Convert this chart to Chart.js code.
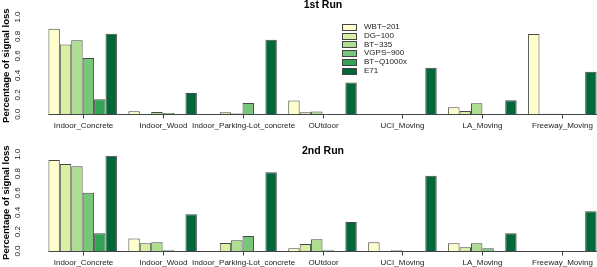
<!DOCTYPE html>
<html>
<head>
<meta charset="utf-8">
<script src="https://cdn.jsdelivr.net/npm/chart.js@4/dist/chart.umd.min.js"></script>
<style>
  html, body { margin: 0; padding: 0; background: #fff; overflow: hidden; width: 597px; height: 267px; }
  canvas { position: absolute; left: 0; }
  #run1 { top: 0; }
  #run2 { top: 134px; }
</style>
</head>
<body>
<canvas id="run1" width="604" height="133"></canvas>
<canvas id="run2" width="604" height="133"></canvas>
<script>
// categories and devices
var categories = ['Indoor_Concrete', 'Indoor_Wood', 'Indoor_Parking-Lot_concrete', 'OUtdoor', 'UCI_Moving', 'LA_Moving', 'Freeway_Moving'];
var devices = ['WBT\u2212201', 'DG\u2212100', 'BT\u2212335', 'VGPS\u2212900', 'BT\u2212Q1000x', 'E71'];
var colors = ['#ffffcc', '#d9f0a3', '#addd8e', '#78c679', '#31a354', '#006837'];
var yTicks = [0, 0.2, 0.4, 0.6, 0.8, 1.0];

// 1st run, fraction of signal loss per device
var run1WBT   = [0.879, 0.031, 0,     0.141, 0,     0.072, 0.824];
var run1DG    = [0.717, 0,     0.020, 0.020, 0,     0.034, 0.005];
var run1BT335 = [0.762, 0.024, 0.008, 0.030, 0.003, 0.114, 0.005];
var run1VGPS  = [0.579, 0.014, 0.115, 0.004, 0,     0,     0];
var run1BTQ   = [0.155, 0,     0,     0,     0,     0,     0];
var run1E71   = [0.828, 0.220, 0.765, 0.328, 0.479, 0.145, 0.438];

// 2nd run
var run2WBT   = [0.941, 0.128, 0,     0.028, 0.090, 0.079, 0];
var run2DG    = [0.900, 0.079, 0.083, 0.072, 0,     0.038, 0];
var run2BT335 = [0.876, 0.090, 0.110, 0.121, 0.007, 0.079, 0];
var run2VGPS  = [0.603, 0.007, 0.155, 0.007, 0,     0.028, 0];
var run2BTQ   = [0.183, 0,     0,     0,     0,     0,     0];
var run2E71   = [0.986, 0.379, 0.814, 0.300, 0.779, 0.183, 0.410];

var FONT = '"Liberation Sans", Arial, Helvetica, sans-serif';

// axes, labels, titles and legend drawn R-style
var decor = {
  id: 'decor',
  afterDraw: function(chart, args, opts) {
    var ctx = chart.ctx, a = chart.chartArea;
    var x = chart.scales.x, y = chart.scales.y;
    var step = x.getPixelForValue(1) - x.getPixelForValue(0);
    var base = Math.round(y.getPixelForValue(0)) + 0.5;
    ctx.save();
    ctx.strokeStyle = '#444';
    ctx.lineWidth = 1;
    ctx.beginPath();
    ctx.moveTo(x.getPixelForValue(0) - step * 3 / 7, base);
    ctx.lineTo(a.right, base);
    ctx.stroke();

    ctx.fillStyle = '#222';
    ctx.font = '8px ' + FONT;
    ctx.textAlign = 'center';
    ctx.textBaseline = 'middle';
    categories.forEach(function(c, i) {
      var px = Math.round(x.getPixelForValue(i)) + 0.5;
      ctx.beginPath();
      ctx.moveTo(px, base);
      ctx.lineTo(px, base + 4);
      ctx.stroke();
      ctx.fillText(c, px, base + 11.5);
    });

    yTicks.forEach(function(v) {
      ctx.save();
      ctx.translate(18, y.getPixelForValue(v));
      ctx.rotate(-Math.PI / 2);
      ctx.fillText(v.toFixed(1), 0, 0);
      ctx.restore();
    });

    ctx.fillStyle = '#000';
    ctx.save();
    ctx.font = 'bold 9.5px ' + FONT;
    ctx.translate(6, (a.top + a.bottom) / 2);
    ctx.rotate(-Math.PI / 2);
    ctx.fillText('Percentage of signal loss', 0, 0);
    ctx.restore();

    ctx.font = 'bold 10.5px ' + FONT;
    ctx.fillText(opts.title, 323, opts.titleY);

    if (opts.legend) {
      ctx.font = '8px ' + FONT;
      ctx.textAlign = 'left';
      devices.forEach(function(d, i) {
        var ly = 26.7 + i * 8.85;
        ctx.fillStyle = colors[i];
        ctx.fillRect(342.5, Math.round(ly - 3) + 0.5, 14, 6);
        ctx.strokeStyle = '#444';
        ctx.strokeRect(342.5, Math.round(ly - 3) + 0.5, 14, 6);
        ctx.fillStyle = '#222';
        ctx.fillText(d, 364, ly);
      });
    }
    ctx.restore();
  }
};

function makeChart(id, series, title, titleY, legend, pad) {
  return new Chart(document.getElementById(id), {
    type: 'bar',
    data: {
      labels: categories,
      datasets: devices.map(function(d, i) {
        return {
          label: d,
          data: series[i],
          backgroundColor: colors[i],
          borderColor: 'rgba(40,40,40,0.85)',
          borderWidth: 1,
          borderSkipped: 'bottom'
        };
      })
    },
    options: {
      responsive: false,
      animation: false,
      devicePixelRatio: 1,
      layout: { padding: pad },
      datasets: { bar: { categoryPercentage: 6 / 7, barPercentage: 1 } },
      scales: {
        x: { display: false },
        y: { display: false, min: 0, max: 1 }
      },
      plugins: {
        legend: { display: false },
        tooltip: { enabled: false },
        decor: { title: title, titleY: titleY, legend: legend }
      }
    },
    plugins: [decor]
  });
}

makeChart('run1', [run1WBT, run1DG, run1BT335, run1VGPS, run1BTQ, run1E71], '1st Run', 5, true,
  { left: 42.7, right: 1.7, top: 17, bottom: 18.7 });
makeChart('run2', [run2WBT, run2DG, run2BT335, run2VGPS, run2BTQ, run2E71], '2nd Run', 17.5, false,
  { left: 42.7, right: 1.7, top: 20.3, bottom: 16 });
</script>
</body>
</html>
